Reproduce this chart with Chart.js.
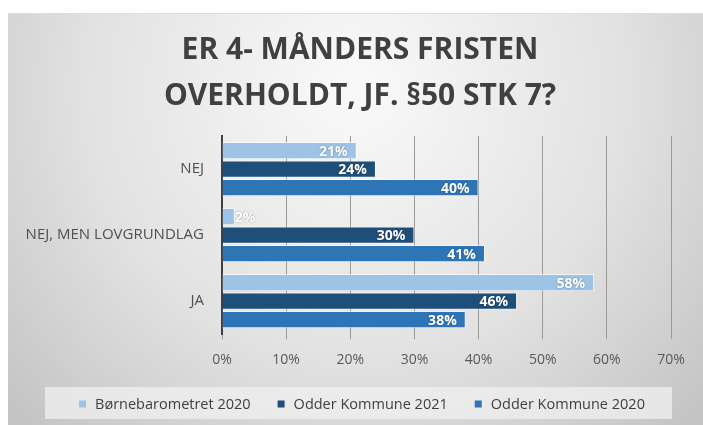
<!DOCTYPE html>
<html>
<head>
<meta charset="utf-8">
<script src="https://cdn.jsdelivr.net/npm/chart.js@4.4.1/dist/chart.umd.min.js"></script>
<style>
  html, body { margin: 0; padding: 0; background: #fff; }
  #wrap { width: 703px; height: 425px; position: relative; }
</style>
</head>
<body>
<div id="wrap"><canvas id="chart" width="703" height="425"></canvas></div>
<script>
(function () {
    'use strict';

    // ====== Data ======
    const categories = ['NEJ', 'NEJ, MEN LOVGRUNDLAG', 'JA'];
    const seriesNames = ['Børnebarometret 2020', 'Odder Kommune 2021', 'Odder Kommune 2020'];
    const barometer2020 = [21, 2, 58];
    const odder2021 = [24, 30, 46];
    const odder2020 = [40, 41, 38];
    const xTicks = [0, 10, 20, 30, 40, 50, 60, 70];
    const titleLines = ['ER 4- MÅNDERS FRISTEN', 'OVERHOLDT, JF. §50 STK 7?'];

    const colors = ['#9dc3e6', '#1f4e79', '#2e75b6'];
    const FONT = "'Open Sans', 'Noto Sans', sans-serif";

    // ====== Background, title, legend box ======
    const bgPlugin = {
        id: 'bg',
        beforeDraw(chart) {
            const ctx = chart.ctx;
            ctx.save();
            const g = ctx.createRadialGradient(355, 90, 20, 355, 90, 470);
            g.addColorStop(0, '#f8f8f8');
            g.addColorStop(0.55, '#e2e2e2');
            g.addColorStop(1, '#c4c4c4');
            ctx.fillStyle = g;
            ctx.fillRect(8, 13, 703 - 8, 425 - 13);
            ctx.fillStyle = '#dcdcdc';
            ctx.fillRect(8, 13, 703 - 8, 1);
            // legend box
            ctx.fillStyle = 'rgba(240,240,240,0.75)';
            ctx.fillRect(45, 387, 627, 32);
            // title
            ctx.fillStyle = '#404040';
            ctx.font = 'bold 30px ' + FONT;
            ctx.textAlign = 'center';
            ctx.textBaseline = 'middle';
            ctx.fillText(titleLines[0], 360, 50);
            ctx.fillText(titleLines[1], 360, 96);
            ctx.restore();
        }
    };

    // ====== Custom legend ======
    const legendPlugin = {
        id: 'legendBox',
        afterDraw(chart) {
            const ctx = chart.ctx;
            ctx.save();
            ctx.font = '14.5px ' + FONT;
            ctx.textBaseline = 'middle';
            const box = 7, gapIn = 9, gapOut = 27;
            const items = chart.data.datasets.map(ds => ({ label: ds.label, color: ds.backgroundColor }));
            let total = 0;
            items.forEach((it, i) => {
                it.w = box + gapIn + ctx.measureText(it.label).width;
                total += it.w + (i ? gapOut : 0);
            });
            let x = 362 - total / 2;
            const y = 404;
            items.forEach(it => {
                ctx.fillStyle = it.color;
                ctx.fillRect(x, y - box / 2, box, box);
                ctx.fillStyle = '#404040';
                ctx.fillText(it.label, x + box + gapIn, y + 1);
                x += it.w + gapOut;
            });
            ctx.restore();
        }
    };

    // ====== Data labels ======
    const labelPlugin = {
        id: 'barLabels',
        afterDatasetsDraw(chart) {
            const ctx = chart.ctx;
            ctx.save();
            ctx.font = 'bold 14px ' + FONT;
            ctx.textBaseline = 'middle';
            ctx.fillStyle = '#ffffff';
            ctx.shadowColor = 'rgba(0,0,0,0.35)';
            ctx.shadowBlur = 2;
            chart.data.datasets.forEach((ds, di) => {
                const meta = chart.getDatasetMeta(di);
                meta.data.forEach((bar, i) => {
                    const txt = ds.data[i] + '%';
                    const w = ctx.measureText(txt).width;
                    const len = bar.x - bar.base;
                    if (len > w + 12) {
                        ctx.textAlign = 'right';
                        ctx.fillText(txt, bar.x - 9, bar.y + 1);
                    } else {
                        ctx.textAlign = 'left';
                        ctx.fillText(txt, bar.x, bar.y + 1);
                    }
                });
            });
            ctx.restore();
        }
    };

    new Chart(document.getElementById('chart'), {
        type: 'bar',
        data: {
            labels: categories,
            datasets: [
                { label: seriesNames[0], data: barometer2020, backgroundColor: colors[0] },
                { label: seriesNames[1], data: odder2021, backgroundColor: colors[1] },
                { label: seriesNames[2], data: odder2020, backgroundColor: colors[2] }
            ].map(ds => Object.assign(ds, {
                borderColor: 'rgba(255,255,255,0.55)',
                borderWidth: 1,
                borderSkipped: 'start',
                categoryPercentage: 0.84,
                barPercentage: 0.93
            }))
        },
        options: {
            indexAxis: 'y',
            responsive: false,
            animation: false,
            layout: { padding: { left: 8, top: 136, right: 32, bottom: 45 } },
            scales: {
                x: {
                    min: 0,
                    max: 70,
                    afterBuildTicks: (s) => { s.ticks = xTicks.map(v => ({ value: v })); },
                    grid: { color: '#9a9a9a', lineWidth: 1, tickLength: 5, drawOnChartArea: true },
                    border: { display: false },
                    ticks: {
                        callback: (v) => v + '%',
                        color: '#595959',
                        font: { family: FONT, size: 14 },
                        padding: 12
                    }
                },
                y: {
                    grid: { display: false },
                    border: { display: true, color: '#404040', width: 2 },
                    ticks: {
                        color: '#505050',
                        font: { family: FONT, size: 15 },
                        padding: 10
                    },
                    afterFit: (s) => { s.width = 214; }
                }
            },
            plugins: {
                legend: { display: false },
                tooltip: { enabled: false },
                title: { display: false }
            }
        },
        plugins: [bgPlugin, labelPlugin, legendPlugin]
    });
})();
</script>
</body>
</html>
